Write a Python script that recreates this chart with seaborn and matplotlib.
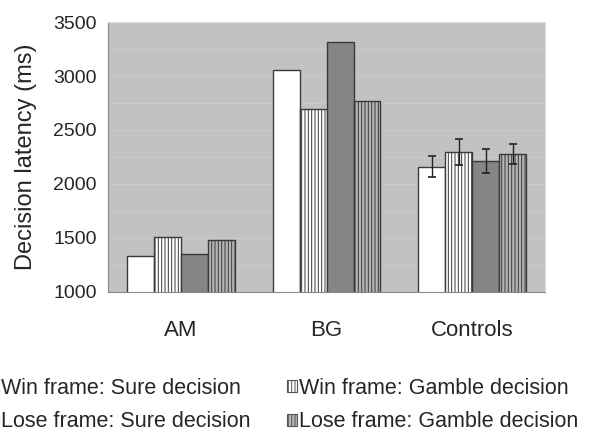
import pandas as pd
import seaborn as sns
import matplotlib.pyplot as plt
from matplotlib.patches import Patch

# values
groups = ['AM', 'BG', 'Controls']
conditions = ['Win frame: Sure decision', 'Win frame: Gamble decision',
              'Lose frame: Sure decision', 'Lose frame: Gamble decision']
latency = {
    'Win frame: Sure decision':    [1333, 3055, 2160],
    'Win frame: Gamble decision':  [1506, 2691, 2296],
    'Lose frame: Sure decision':   [1352, 3318, 2213],
    'Lose frame: Gamble decision': [1481, 2772, 2278],
}
# error bars only shown for Controls
controls_err = [100, 120, 115, 95]

face = ['white', 'white', '#858585', '#b4b4b4']
hatch = [None, '|||||', None, '|||||']

rows = []
for c in conditions:
    for g, v in zip(groups, latency[c]):
        rows.append({'group': g, 'condition': c, 'latency': v})
df = pd.DataFrame(rows)

sns.set_style('white')
plt.rcParams['font.family'] = ['Liberation Sans', 'DejaVu Sans']
plt.rcParams['hatch.linewidth'] = 0.7

fig = plt.figure(figsize=(5.9, 4.33), dpi=100)
ax = fig.add_axes([0.183, 0.326, 0.741, 0.623])
ax.set_facecolor('#c2c2c2')

sns.barplot(data=df, x='group', y='latency', hue='condition', order=groups,
            hue_order=conditions, errorbar=None, width=0.74, gap=0,
            palette=face, edgecolor='#3a3a3a', linewidth=1.0, legend=False, ax=ax)

n = len(groups)
bars = [p for p in ax.patches]
for i, p in enumerate(bars):
    k = i // n
    p.set_facecolor(face[k])
    if hatch[k]:
        p.set_hatch(hatch[k])

# error bars for the Controls group
for k in range(len(conditions)):
    p = bars[k * n + 2]
    xc = p.get_x() + p.get_width() / 2
    ax.errorbar(xc, p.get_height(), yerr=controls_err[k], color='#222222',
                capsize=2.7, elinewidth=1.0, capthick=1.2, fmt='none')

# faint gridlines like the reference background bands
for yv in range(1250, 3500, 250):
    ax.axhline(yv, color='#cacaca', lw=0.8, zorder=0)

ax.set_ylim(1000, 3500)
ax.set_yticks(range(1000, 3501, 500))
ax.set_xlim(-0.5, 2.5)
ax.set_xticks([-0.5, 0.5, 1.5, 2.5], minor=True)
ax.tick_params(axis='x', which='major', length=0, pad=20, labelsize=16)
ax.tick_params(axis='x', which='minor', length=6, color='#888888', width=0.8, direction='out')
ax.tick_params(axis='y', length=5, color='#888888', width=0.8, direction='out', labelsize=14, pad=3)
ax.set_xlabel('')
ax.set_ylabel('Decision latency (ms)', fontsize=17, labelpad=12)

for s in ['left', 'bottom']:
    ax.spines[s].set_color('#888888')
    ax.spines[s].set_linewidth(0.8)
for s in ['top', 'right']:
    ax.spines[s].set_color('#dddddd')
    ax.spines[s].set_linewidth(0.8)

# legend fills column-wise: sure decisions left, gamble decisions right
leg_order = [0, 2, 1, 3]
handles = [Patch(facecolor=face[k], edgecolor='#555555', hatch=hatch[k], lw=0.8)
           for k in leg_order]
labels = [conditions[k] for k in leg_order]
fig.legend(handles, labels, ncol=2, loc='upper left',
           bbox_to_anchor=(-0.020, 0.128), frameon=False, fontsize=15.5,
           handlelength=0.5, handleheight=0.5, handletextpad=0.1,
           columnspacing=1.67, labelspacing=0.6, borderaxespad=0, borderpad=0)

fig.savefig('out.png', dpi=100)
